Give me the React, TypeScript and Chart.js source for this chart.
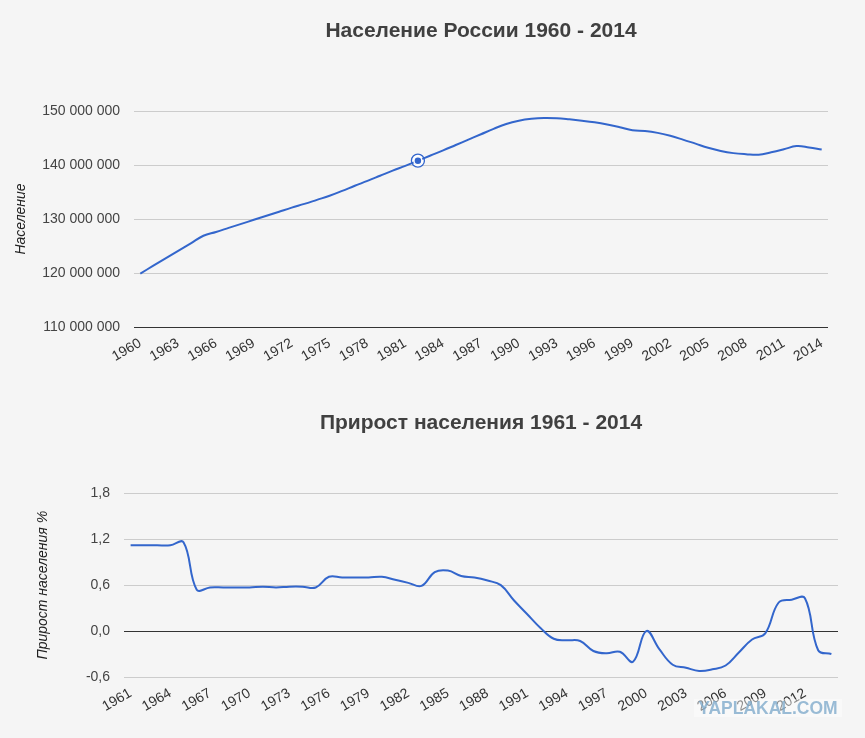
import React, { useEffect, useRef } from "react";
import { Chart, registerables } from "chart.js";

Chart.register(...registerables);

// Population of Russia, millions (1960 - 2014)
const popYears = [
  "1960","1961","1962","1963","1964","1965","1966","1967","1968","1969",
  "1970","1971","1972","1973","1974","1975","1976","1977","1978","1979",
  "1980","1981","1982","1983","1984","1985","1986","1987","1988","1989",
  "1990","1991","1992","1993","1994","1995","1996","1997","1998","1999",
  "2000","2001","2002","2003","2004","2005","2006","2007","2008","2009",
  "2010","2011","2012","2013","2014",
];
const popMillions = [
  119.9, 121.3, 122.7, 124.1, 125.5, 126.9, 127.6, 128.35, 129.1, 129.85,
  130.6, 131.35, 132.1, 132.8, 133.55, 134.3, 135.2, 136.15, 137.05, 138.0,
  138.95, 139.85, 140.8, 141.75, 142.7, 143.7, 144.7, 145.7, 146.7, 147.6,
  148.2, 148.55, 148.7, 148.65, 148.45, 148.2, 147.9, 147.5, 147.0, 146.45,
  146.3, 145.95, 145.4, 144.7, 143.95, 143.2, 142.6, 142.2, 142.0, 141.9,
  142.35, 142.9, 143.5, 143.25, 142.85,
];
const highlightedYear = "1982";

// Population growth, % (1961 - 2014)
const growthYears = [
  "1961","1962","1963","1964","1965","1966","1967","1968","1969","1970",
  "1971","1972","1973","1974","1975","1976","1977","1978","1979","1980",
  "1981","1982","1983","1984","1985","1986","1987","1988","1989","1990",
  "1991","1992","1993","1994","1995","1996","1997","1998","1999","2000",
  "2001","2002","2003","2004","2005","2006","2007","2008","2009","2010",
  "2011","2012","2013","2014",
];
const growthPct = [
  1.12, 1.12, 1.12, 1.12, 1.16, 0.54, 0.57, 0.57, 0.57, 0.57,
  0.58, 0.57, 0.58, 0.58, 0.57, 0.71, 0.70, 0.70, 0.70, 0.71,
  0.67, 0.63, 0.59, 0.77, 0.79, 0.72, 0.70, 0.66, 0.60, 0.40,
  0.22, 0.04, -0.10, -0.12, -0.13, -0.26, -0.29, -0.27, -0.40, 0.0,
  -0.24, -0.44, -0.48, -0.52, -0.50, -0.45, -0.28, -0.11, -0.03, 0.37,
  0.41, 0.43, -0.25, -0.30,
];

const popTicks = { min: 110000000, max: 150000000, step: 10000000 };
const growthTicks = { min: -0.6, max: 1.8, step: 0.6 };

const FONT = "'Liberation Sans', Arial, sans-serif";
const BLUE = "#3366cc";

Chart.defaults.font.family = FONT;

function spaced(v: number) {
  return String(Math.round(v)).replace(/\B(?=(\d{3})+(?!\d))/g, " ");
}

function makeConfig(opts: {
  labels: string[];
  datasets: any[];
  title: string;
  yTitle: string;
  yMin: number;
  yMax: number;
  yStep: number;
  baseline: number;
  yFormat: (v: number) => string;
  axisWidth: number;
  xHeight: number;
  padRight: number;
  titlePadTop: number;
  titlePadBottom: number;
  yTitlePad: number;
}): any {
  return {
    type: "line",
    data: { labels: opts.labels, datasets: opts.datasets },
    options: {
      animation: false,
      responsive: false,
      events: [],
      layout: { padding: { left: 0, right: opts.padRight, top: 0, bottom: 0 } },
      plugins: {
        legend: { display: false },
        tooltip: { enabled: false },
        title: {
          display: true,
          fullSize: false,
          text: opts.title,
          color: "#404040",
          font: { family: FONT, size: 21, weight: "bold" },
          padding: { top: opts.titlePadTop, bottom: opts.titlePadBottom },
        },
      },
      scales: {
        x: {
          type: "category",
          offset: true,
          grid: { display: false, drawTicks: false },
          border: { display: false },
          ticks: {
            autoSkip: false,
            minRotation: 30,
            maxRotation: 30,
            padding: 8,
            color: "#333",
            font: { size: 14 },
            callback: (_v: any, i: number) => (i % 3 === 0 ? opts.labels[i] : ""),
          },
          afterFit: (s: any) => {
            s.height = opts.xHeight;
          },
        },
        y: {
          min: opts.yMin,
          max: opts.yMax,
          border: { display: false },
          grid: {
            drawTicks: false,
            lineWidth: 1,
            color: (ctx: any) =>
              Math.abs(ctx.tick.value - opts.baseline) < 1e-9 ? "#333" : "#cccccc",
          },
          ticks: {
            stepSize: opts.yStep,
            padding: 14,
            color: "#444",
            font: { size: 14 },
            callback: (v: any) => opts.yFormat(Number(v)),
          },
          title: {
            display: true,
            text: opts.yTitle,
            color: "#222",
            font: { size: 14, style: "italic" },
            padding: { top: opts.yTitlePad, bottom: 0 },
          },
          afterFit: (s: any) => {
            s.width = opts.axisWidth;
          },
        },
      },
    },
  };
}

export default function App() {
  const topRef = useRef<HTMLCanvasElement>(null);
  const botRef = useRef<HTMLCanvasElement>(null);

  useEffect(() => {
    const hi = popYears.indexOf(highlightedYear);
    const popValues = popMillions.map((m) => m * 1000000);
    const topChart = new Chart(
      topRef.current!,
      makeConfig({
        labels: popYears,
        datasets: [
          {
            data: popValues,
            borderColor: BLUE,
            borderWidth: 2,
            tension: 0.4,
            fill: false,
            order: 0,
            pointRadius: popValues.map((_, i) => (i === hi ? 4 : 0)),
            pointBackgroundColor: BLUE,
            pointBorderColor: "#ffffff",
            pointBorderWidth: 1.5,
          },
          {
            data: popValues.map((v, i) => (i === hi ? v : null)),
            showLine: false,
            order: 1,
            pointRadius: 6.5,
            pointBackgroundColor: "#ffffff",
            pointBorderColor: BLUE,
            pointBorderWidth: 1.3,
          },
        ],
        title: "Население России 1960 - 2014",
        yTitle: "Население",
        yMin: popTicks.min,
        yMax: popTicks.max,
        yStep: popTicks.step,
        baseline: popTicks.min,
        yFormat: spaced,
        axisWidth: 134,
        xHeight: 63,
        padRight: 37,
        titlePadTop: 18.4,
        titlePadBottom: 67.4,
        yTitlePad: 13,
      })
    );

    const botChart = new Chart(
      botRef.current!,
      makeConfig({
        labels: growthYears,
        datasets: [
          {
            data: growthPct,
            borderColor: BLUE,
            borderWidth: 2,
            tension: 0.4,
            fill: false,
            pointRadius: 0,
          },
        ],
        title: "Прирост населения 1961 - 2014",
        yTitle: "Прирост населения %",
        yMin: growthTicks.min,
        yMax: growthTicks.max,
        yStep: growthTicks.step,
        baseline: 0,
        yFormat: (v) => v.toFixed(1).replace(".", ","),
        axisWidth: 124,
        xHeight: 61,
        padRight: 27,
        titlePadTop: 20.4,
        titlePadBottom: 57.7,
        yTitlePad: 35,
      })
    );

    return () => {
      topChart.destroy();
      botChart.destroy();
    };
  }, []);

  return (
    <div
      style={{
        position: "fixed",
        left: 0,
        top: 0,
        width: 865,
        height: 738,
        background: "#f5f5f5",
        overflow: "hidden",
      }}
    >
      <canvas
        ref={topRef}
        width={865}
        height={390}
        style={{ position: "absolute", left: 0, top: 0, width: 865, height: 390 }}
      />
      <canvas
        ref={botRef}
        width={865}
        height={348}
        style={{ position: "absolute", left: 0, top: 390, width: 865, height: 348 }}
      />
      <div
        style={{
          position: "absolute",
          left: 694,
          top: 699,
          width: 148,
          height: 18,
          background: "rgba(255,255,255,0.45)",
          color: "rgba(120,165,200,0.75)",
          font: `bold 17.5px ${FONT}`,
          lineHeight: "18px",
          textAlign: "center",
          pointerEvents: "none",
        }}
      >
        YAPLAKAL.COM
      </div>
    </div>
  );
}
